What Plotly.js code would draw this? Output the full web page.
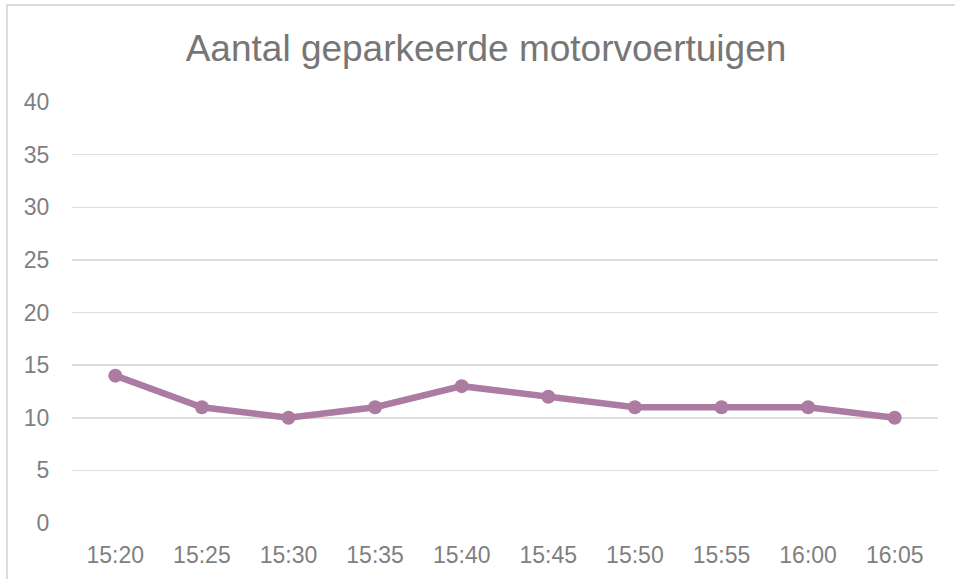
<!DOCTYPE html>
<html>
<head>
<meta charset="utf-8">
<script src="https://cdn.plot.ly/plotly-3.0.1.min.js"></script>
<style>
  html, body { margin: 0; padding: 0; background: #ffffff; overflow: hidden; }
  #frame { position: absolute; left: 6px; top: 4px; width: 1000px; height: 1000px;
           border-top: 2px solid #dcdcdc; border-left: 2px solid #dcdcdc; box-sizing: border-box; }
  #chart { position: absolute; left: 0; top: 0; width: 955px; height: 579px; }
</style>
</head>
<body>
<div id="frame"></div>
<div id="chart"></div>
<script>
const categories = ["15:20", "15:25", "15:30", "15:35", "15:40", "15:45", "15:50", "15:55", "16:00", "16:05"];
const counts = [14, 11, 10, 11, 13, 12, 11, 11, 11, 10];
const yTicks = [0, 5, 10, 15, 20, 25, 30, 35, 40];
const titleText = "Aantal geparkeerde motorvoertuigen";

const trace = {
  x: categories,
  y: counts,
  type: "scatter",
  mode: "lines+markers",
  line: { color: "#AC7BA2", width: 6.5 },
  marker: { color: "#AC7BA2", size: 14 },
  hoverinfo: "x+y"
};

const layout = {
  width: 955,
  height: 579,
  margin: { l: 72, r: 17, t: 102, b: 56, pad: 0 },
  paper_bgcolor: "rgba(0,0,0,0)",
  plot_bgcolor: "rgba(0,0,0,0)",
  showlegend: false,
  font: { family: "Liberation Sans, Arial, sans-serif", color: "#7f7f7f", size: 23 },
  title: {
    text: titleText,
    font: { family: "Liberation Sans, Arial, sans-serif", size: 37, color: "#767676" },
    xref: "container", yref: "container",
    x: 486 / 955, xanchor: "center",
    y: 1 - 48 / 579, yanchor: "middle"
  },
  xaxis: {
    type: "category",
    range: [-0.5, categories.length - 0.5],
    autorange: false,
    showgrid: false,
    zeroline: false,
    showline: false,
    ticks: "outside",
    ticklen: 11,
    tickcolor: "rgba(0,0,0,0)",
    tickfont: { size: 23, color: "#7f7f7f" }
  },
  yaxis: {
    range: [0, 40],
    autorange: false,
    tickvals: yTicks,
    ticktext: yTicks.map(String),
    showgrid: true,
    gridcolor: "#dedede",
    gridwidth: 1.5,
    zeroline: false,
    showline: false,
    ticks: "outside",
    ticklen: 17,
    tickcolor: "rgba(0,0,0,0)",
    tickfont: { size: 23, color: "#7f7f7f" }
  }
};

Plotly.newPlot("chart", [trace], layout, { displayModeBar: false, staticPlot: true });
</script>
</body>
</html>
